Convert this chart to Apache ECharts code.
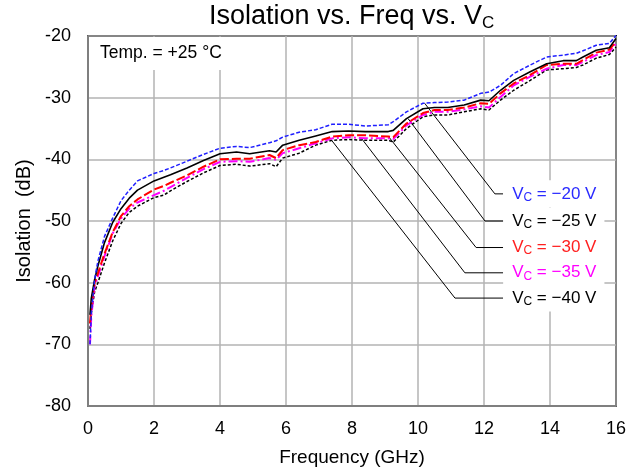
<!DOCTYPE html>
<html>
<head>
<meta charset="utf-8">
<script src="https://cdn.jsdelivr.net/npm/echarts@6/dist/echarts.min.js"></script>
<style>html,body{margin:0;padding:0;background:#fff;}#c{width:642px;height:472px;}</style>
</head>
<body>
<div id="c"></div>
<script>
// Frequency grid (GHz)
const freq = [0.06, 0.1, 0.2, 0.3, 0.5, 0.75, 1.0, 1.25, 1.5, 2.0, 2.3, 2.5, 3.0, 3.5, 4.0, 4.5, 4.9, 5.5, 5.7, 5.9, 6.4, 6.9, 7.4, 7.9, 8.4, 9.1, 9.25, 9.65, 10.15, 10.5, 10.9, 11.4, 11.9, 12.15, 12.5, 12.9, 13.4, 13.9, 14.4, 14.8, 15.0, 15.4, 15.8, 16.0];
// Isolation (dB) per control voltage
const vc20 = [-70, -65, -59.5, -56.5, -52.5, -49.5, -46.7, -45.0, -43.5, -42.3, -41.8, -41.4, -40.3, -39.2, -38.2, -37.9, -38.1, -37.3, -37.0, -36.4, -35.6, -35.2, -34.3, -34.3, -34.6, -34.4, -33.9, -32.3, -30.9, -30.8, -30.7, -30.4, -29.3, -29.1, -28.0, -26.1, -24.7, -23.4, -23.1, -22.8, -22.4, -21.5, -21.2, -19.9];
const vc25 = [-65.2, -62.5, -59.5, -57.3, -53.5, -50.2, -48.0, -46.3, -45.0, -43.5, -42.9, -42.5, -41.4, -40.2, -39.1, -38.8, -39.1, -38.6, -38.8, -37.7, -36.9, -36.2, -35.5, -35.4, -35.5, -35.5, -35.3, -33.4, -31.8, -31.6, -31.6, -31.2, -30.4, -30.5, -28.8, -27.2, -25.8, -24.5, -24.0, -24.0, -23.4, -22.3, -21.9, -20.4];
const vc30 = [-66.6, -64.0, -60.0, -58.5, -55.3, -51.8, -49.2, -47.6, -46.5, -44.9, -44.3, -43.8, -42.6, -41.2, -40.0, -39.9, -39.9, -39.3, -39.8, -38.5, -37.7, -37.2, -36.3, -36.1, -36.1, -36.3, -36.4, -34.2, -32.5, -32.0, -32.0, -31.6, -30.9, -31.0, -29.3, -27.7, -26.3, -24.7, -24.5, -24.5, -23.9, -22.7, -22.2, -20.9];
const vc35 = [-70.0, -65.5, -60.5, -59.0, -55.7, -52.0, -49.6, -48.0, -47.0, -45.8, -45.1, -44.5, -43.0, -41.6, -40.4, -40.3, -40.4, -39.8, -40.1, -39.0, -38.2, -37.4, -36.6, -36.4, -36.6, -36.6, -36.7, -34.5, -32.8, -32.3, -32.3, -31.9, -31.4, -31.6, -29.9, -28.0, -26.6, -25.3, -24.7, -24.7, -24.2, -23.1, -22.6, -21.2];
const vc40 = [-67.5, -65.0, -61.5, -60.0, -56.8, -53.2, -50.4, -48.6, -47.6, -46.2, -45.8, -45.1, -43.6, -42.2, -41.0, -40.8, -41.1, -40.7, -41.2, -39.8, -39.0, -37.7, -36.9, -36.8, -36.9, -36.9, -37.2, -35.0, -33.1, -32.8, -32.8, -32.3, -31.8, -32.0, -30.4, -28.8, -27.2, -25.5, -25.3, -25.1, -24.7, -23.6, -23.0, -21.8];

const seriesNames = ['VC = -20 V', 'VC = -25 V', 'VC = -30 V', 'VC = -35 V', 'VC = -40 V'];
const labelTexts = ['\u221220 V', '\u221225 V', '\u221230 V', '\u221235 V', '\u221240 V'];
// Leader annotations in data units: start on curve, elbow, end
const leaderStart = [[10.2, -30.9], [9.7, -33.4], [9.12, -36.4], [8.3, -36.7], [7.38, -36.9]];
const leaderElbow = [[12.33, -45.6], [12.03, -50.0], [11.76, -54.3], [11.42, -58.4], [11.12, -62.5]];
const leaderEndX = 12.58;

const xTicks = [0, 2, 4, 6, 8, 10, 12, 14, 16];
const yTicks = [-80, -70, -60, -50, -40, -30, -20];

const colors = ['#1f1fff', '#000000', '#ff0000', '#ff00ff', '#000000'];
const labelColors = ['#2a2aff', '#000000', '#ff2020', '#ff00ff', '#000000'];
const styles = [
  {type: [4, 2], width: 1.5},
  {type: 'solid', width: 1.6},
  {type: [9, 3], width: 2},
  {type: [9, 3, 2, 3], width: 2},
  {type: [3, 2], width: 1.5}
];
const values = [vc20, vc25, vc30, vc35, vc40];
const FONT = 'Liberation Sans, Arial, sans-serif';

const chart = echarts.init(document.getElementById('c'), null, {renderer: 'canvas'});
const series = [];
// leader lines
for (let i = 0; i < 5; i++) {
  series.push({
    type: 'line', silent: true, symbol: 'none', z: 1,
    lineStyle: {color: '#000', width: 1},
    data: [leaderStart[i], leaderElbow[i], [leaderEndX, leaderElbow[i][1]]],
    label: {show: false},
    endLabel: {
      show: true, distance: 0, color: labelColors[i], fontFamily: FONT,
      backgroundColor: '#fff', padding: [4, 8, 4, 9],
      formatter: () => '{v|V}{s|C}{v| = ' + labelTexts[i] + '}',
      rich: {
        v: {fontSize: 17, color: labelColors[i], fontFamily: FONT, lineHeight: 19},
        s: {fontSize: 12, color: labelColors[i], fontFamily: FONT, verticalAlign: 'bottom', lineHeight: 12, padding: [7, 0, 0, 0]}
      }
    },
    animation: false
  });
}
// data curves (draw bottom to top)
for (let i = 4; i >= 0; i--) {
  series.push({
    name: seriesNames[i], type: 'line', symbol: 'none', z: 3,
    data: freq.map((f, k) => [f, values[i][k]]),
    lineStyle: {color: colors[i], width: styles[i].width, type: styles[i].type},
    animation: false
  });
}

chart.setOption({
  backgroundColor: '#fff',
  animation: false,
  title: {
    text: '{a|Isolation vs. Freq vs. V}{s|C}',
    left: 209, top: 1, padding: 0,
    textStyle: {
      fontWeight: 'normal',
      rich: {
        a: {fontSize: 27, fontFamily: FONT, color: '#000', fontWeight: 'normal', lineHeight: 31},
        s: {fontSize: 17, fontFamily: FONT, color: '#000', fontWeight: 'normal', verticalAlign: 'bottom', lineHeight: 17, padding: [10, 0, 0, 0]}
      }
    }
  },
  grid: {left: 88, right: 26, top: 36, bottom: 66, show: true, borderColor: '#000', borderWidth: 2, backgroundColor: 'transparent'},
  xAxis: {
    type: 'value', min: 0, max: 16, interval: 2,
    name: 'Frequency (GHz)', nameLocation: 'middle', nameGap: 42,
    nameTextStyle: {fontSize: 19, fontFamily: FONT, color: '#000'},
    axisLine: {show: true, onZero: false, lineStyle: {color: '#7f7f7f', width: 2}},
    axisTick: {show: false},
    axisLabel: {fontSize: 18, fontFamily: FONT, color: '#000', margin: 14, formatter: v => xTicks.includes(v) ? String(v) : ''},
    splitLine: {show: true, lineStyle: {color: '#b3b3b3', width: 1.5}}
  },
  yAxis: {
    type: 'value', min: -80, max: -20, interval: 10,
    name: 'Isolation  (dB)', nameLocation: 'middle', nameGap: 54, nameRotate: 90,
    nameTextStyle: {fontSize: 20, fontFamily: FONT, color: '#000'},
    axisLine: {show: true, onZero: false, lineStyle: {color: '#7f7f7f', width: 2}},
    axisTick: {show: false},
    axisLabel: {fontSize: 18, fontFamily: FONT, color: '#000', margin: 17, formatter: v => yTicks.includes(v) ? String(v) : ''},
    splitLine: {show: true, lineStyle: {color: '#b3b3b3', width: 1.5}}
  },
  graphic: [{
    type: 'text', left: 92, top: 37, z: 10,
    style: {text: 'Temp. = +25 \u00b0C', font: '17.5px ' + FONT, fill: '#000', backgroundColor: '#fff', padding: [7, 8, 8, 8]}
  }],
  series: series
});
</script>
</body>
</html>
